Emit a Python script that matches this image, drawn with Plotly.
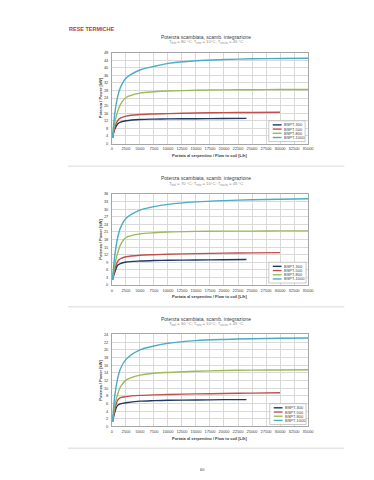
import plotly.graph_objects as go

# ---------------- data ----------------
SERIES_NAMES = ["BSPT-300", "BSPT-500", "BSPT-800", "BSPT-1000"]
SERIES_COLORS = ["#1F3864", "#C0504D", "#9BBB59", "#4BACC6"]

FLOW_300 = [100, 500, 1000, 1500, 2500, 5000, 7500, 10000, 15000, 20000, 24000]
FLOW_500 = [100, 500, 1000, 1500, 2500, 5000, 7500, 10000, 15000, 20000, 25000, 30000]
FLOW_800 = [100, 500, 1000, 1500, 2500, 5000, 7500, 10000, 15000, 20000, 25000, 30000, 35000]
FLOW_1000 = [100, 500, 1000, 1500, 2500, 5000, 7500, 10000, 15000, 20000, 25000, 30000, 35000]

# T boiler = 80 °C
P80_300 = [3.0, 7.5, 10.3, 11.3, 12.0, 12.7, 12.9, 13.0, 13.1, 13.2, 13.3]
P80_500 = [3.0, 8.5, 12.0, 13.4, 14.5, 15.3, 15.6, 15.8, 16.1, 16.3, 16.4, 16.5]
P80_800 = [3.0, 11.0, 16.7, 20.5, 24.3, 26.6, 27.3, 27.7, 28.1, 28.3, 28.4, 28.5, 28.5]
P80_1000 = [3.0, 15.8, 24.5, 29.5, 34.5, 38.8, 40.7, 42.3, 43.7, 44.3, 44.7, 44.9, 45.0]

# T boiler = 70 °C
P70_300 = [2.0, 5.0, 7.8, 8.5, 9.1, 9.5, 9.7, 9.8, 9.9, 10.0, 10.1]
P70_500 = [2.0, 6.2, 9.3, 10.4, 11.2, 11.8, 12.0, 12.2, 12.4, 12.6, 12.7, 12.8]
P70_800 = [2.0, 8.0, 12.5, 15.8, 18.8, 20.2, 20.7, 21.0, 21.2, 21.3, 21.3, 21.4, 21.4]
P70_1000 = [2.0, 11.5, 18.5, 22.5, 26.3, 29.6, 31.0, 31.9, 32.9, 33.4, 33.7, 33.9, 34.1]

# T boiler = 60 °C
P60_300 = [1.2, 3.7, 5.5, 5.9, 6.2, 6.6, 6.75, 6.85, 6.9, 7.0, 7.0]
P60_500 = [1.2, 4.4, 6.8, 7.5, 7.8, 8.1, 8.25, 8.35, 8.5, 8.6, 8.7, 8.8]
P60_800 = [1.2, 5.5, 8.3, 10.3, 12.1, 13.4, 13.9, 14.1, 14.4, 14.6, 14.7, 14.75, 14.8]
P60_1000 = [1.2, 8.0, 12.4, 15.0, 17.5, 20.0, 21.0, 21.7, 22.4, 22.7, 22.9, 23.0, 23.1]

X_TICKS = [0, 2500, 5000, 7500, 10000, 12500, 15000, 17500, 20000, 22500, 25000, 27500, 30000, 32500, 35000]
Y_MAX = [48, 36, 24]
Y_STEP = [4, 3, 2]
T_BOIL = [80, 70, 60]

HEADER = "RESE TERMICHE"
TITLE = "Potenza scambiata, scamb. integrazione"
X_TITLE = "Portata al serpentino / Flow to coil [L/h]"
Y_TITLE = "Potenza / Power [kW]"
PAGE_NO = "60"

FLOWS = [FLOW_300, FLOW_500, FLOW_800, FLOW_1000]
PANELS = [
    [P80_300, P80_500, P80_800, P80_1000],
    [P70_300, P70_500, P70_800, P70_1000],
    [P60_300, P60_500, P60_800, P60_1000],
]

# ---------------- layout geometry (window pixels) ----------------
# the page body has an 8px default margin, so the figure is 16px smaller
OFF = 8
W, H = 374 - 2 * OFF, 480 - 2 * OFF
def px(x):
    return (x - OFF) / W
def py(y):
    return 1 - (y - OFF) / H

PLOT_L, PLOT_R = 113, 313
PANEL_TOP = [50, 193, 335]
PANEL_BOT = [142, 285, 428]
LEGEND_BOX = [(273, 119, 310, 140), (273, 262, 311, 283), (274, 405, 311, 426)]

fig = go.Figure()
annotations = []
shapes = []
FONT = "Liberation Sans, Arial, sans-serif"


def note(x, y, text, size, color, xanchor="center", **kw):
    annotations.append(dict(x=px(x), y=py(y), xref="paper", yref="paper",
                            text=text, showarrow=False, xanchor=xanchor,
                            yanchor="middle", borderpad=0,
                            font=dict(size=size, color=color, family=FONT), **kw))


for i, series in enumerate(PANELS):
    ax = "" if i == 0 else str(i + 1)
    for j, (flows, vals) in enumerate(zip(FLOWS, series)):
        fig.add_trace(go.Scatter(
            x=flows, y=vals, mode="lines", name=SERIES_NAMES[j],
            line=dict(color=SERIES_COLORS[j], width=1.4, shape="spline", smoothing=0.8),
            xaxis="x" + ax, yaxis="y" + ax, showlegend=False,
        ))
    top, bot = PANEL_TOP[i], PANEL_BOT[i]
    common = dict(showgrid=True, gridcolor="#D9D9D9", gridwidth=0.6,
                  showline=True, linecolor="#A6A6A6", linewidth=0.6, mirror=True,
                  ticks="", zeroline=False,
                  tickfont=dict(size=4, color="#404040", family=FONT))
    fig.update_layout(**{
        "xaxis" + ax: dict(domain=[px(PLOT_L), px(PLOT_R)], range=[0, 35000],
                           tickvals=X_TICKS, ticktext=[str(v) for v in X_TICKS],
                           anchor="y" + ax, ticklabelstandoff=1, **common),
        "yaxis" + ax: dict(domain=[py(bot), py(top)], range=[0, Y_MAX[i]],
                           dtick=Y_STEP[i], tick0=0, anchor="x" + ax,
                           ticklabelstandoff=2, **common),
    })
    # titles
    note(209, top - 16, TITLE, 5, "#404040")
    note(209, top - 10.5,
         f"T<sub>boil</sub> = {T_BOIL[i]} °C; T<sub>rete</sub> = 10°C; T<sub>uscita</sub> = 45 °C",
         4.2, "#8C8C8C")
    note(101, (top + bot) / 2, "<b>" + Y_TITLE + "</b>", 4, "#404040", textangle=-90)
    note(213, bot + 12, "<b>" + X_TITLE + "</b>", 4, "#404040")
    # legend box
    lx0, ly0, lx1, ly1 = LEGEND_BOX[i]
    shapes.append(dict(type="rect", xref="paper", yref="paper",
                       x0=px(lx0), x1=px(lx1), y0=py(ly1), y1=py(ly0),
                       line=dict(color="#A6A6A6", width=0.6), fillcolor="white"))
    row_h = (ly1 - ly0 - 4) / 4
    for j, name in enumerate(SERIES_NAMES):
        yy = ly0 + 2 + row_h * (j + 0.5)
        shapes.append(dict(type="line", xref="paper", yref="paper",
                           x0=px(lx0 + 4), x1=px(lx0 + 13), y0=py(yy), y1=py(yy),
                           line=dict(color=SERIES_COLORS[j], width=1.4)))
        note(lx0 + 14, yy, name, 4, "#404040", xanchor="left")

# separators
for y in [165, 307, 450]:
    shapes.append(dict(type="line", xref="paper", yref="paper",
                       x0=px(68), x1=px(350), y0=py(y), y1=py(y),
                       line=dict(color="#E6E6E6", width=1.5)))

note(68, 26, "<b>" + HEADER + "</b>", 5.5, "#C0392B", xanchor="left")
note(205, 471, PAGE_NO, 4, "#404040")

fig.update_layout(width=W, height=H, margin=dict(l=0, r=0, t=0, b=0),
                  paper_bgcolor="white", plot_bgcolor="white",
                  annotations=annotations, shapes=shapes, showlegend=False)

fig.write_html("out.html", config={"displayModeBar": False})
